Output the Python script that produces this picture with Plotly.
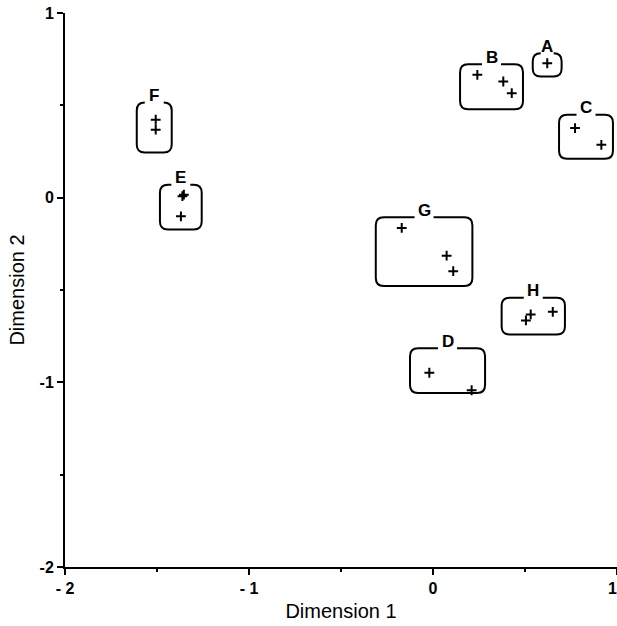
import plotly.graph_objects as go

# ---- data ----
clusters = ["A", "B", "C", "D", "E", "F", "G", "H"]
point_cluster = ["A",
                 "B", "B", "B",
                 "C", "C",
                 "D", "D",
                 "E", "E", "E",
                 "F", "F",
                 "G", "G", "G",
                 "H", "H", "H"]
point_x = [0.621,
           0.241, 0.382, 0.428,
           0.772, 0.915,
           -0.020, 0.210,
           -1.362, -1.354, -1.370,
           -1.507, -1.507,
           -0.170, 0.074, 0.110,
           0.531, 0.505, 0.651]
point_y = [0.728,
           0.665, 0.629, 0.566,
           0.377, 0.286,
           -0.948, -1.043,
           0.008, 0.016, -0.101,
           0.422, 0.368,
           -0.164, -0.314, -0.398,
           -0.632, -0.665, -0.618]
# cluster enclosure extents (data units)
box_x0 = [0.542, 0.147, 0.685, -0.125, -1.484, -1.610, -0.311, 0.373]
box_x1 = [0.699, 0.489, 0.978, 0.283, -1.257, -1.420, 0.214, 0.717]
box_y0 = [0.656, 0.479, 0.211, -1.058, -0.173, 0.245, -0.479, -0.741]
box_y1 = [0.782, 0.723, 0.449, -0.815, 0.070, 0.515, -0.106, -0.542]

x_tickvals = [-2, -1, 0, 1]
x_ticktext = ["- 2", "- 1", "0", "1\u2007"]
y_tickvals = [-2, -1, 0, 1]
y_ticktext = ["-2", "-1", "0", "1"]

# ---- figure ----
W, H = 617, 626
ML, MR, MT, MB = 65, 0, 13, 59
pxx = (W - ML - MR) / 3.0
pxy = (H - MT - MB) / 3.0
rx, ry = 8 / pxx, 8 / pxy
gap = 9.5 / pxx
FONT = "Liberation Sans, Arial, Helvetica, sans-serif"

fig = go.Figure()
fig.add_trace(go.Scatter(
    x=point_x, y=point_y, mode="markers",
    marker=dict(symbol="cross-thin", size=7, line=dict(width=2, color="black")),
    hoverinfo="skip", showlegend=False))

shapes = []
annotations = []
for lab, x0, x1, y0, y1 in zip(clusters, box_x0, box_x1, box_y0, box_y1):
    cx = (x0 + x1) / 2
    left_start = cx - gap
    right_end = cx + gap
    p = []
    if left_start > x0 + rx:
        p.append(f"M{left_start},{y1} L{x0 + rx},{y1}")
    else:
        p.append(f"M{x0 + rx},{y1}")
    p.append(f"Q{x0},{y1} {x0},{y1 - ry}")
    p.append(f"L{x0},{y0 + ry}")
    p.append(f"Q{x0},{y0} {x0 + rx},{y0}")
    p.append(f"L{x1 - rx},{y0}")
    p.append(f"Q{x1},{y0} {x1},{y0 + ry}")
    p.append(f"L{x1},{y1 - ry}")
    p.append(f"Q{x1},{y1} {x1 - rx},{y1}")
    if right_end < x1 - rx:
        p.append(f"L{right_end},{y1}")
    shapes.append(dict(type="path", path=" ".join(p), xref="x", yref="y",
                       line=dict(color="black", width=2)))
    annotations.append(dict(x=cx, y=y1, xref="x", yref="y", text=f"<b>{lab}</b>",
                            showarrow=False, yshift=7, yanchor="middle",
                            font=dict(family=FONT, size=17, color="black")))

axis_common = dict(
    showline=True, linewidth=2, linecolor="black", mirror=False,
    showgrid=False, zeroline=False,
    ticks="outside", ticklen=6, tickwidth=2, tickcolor="black",
    tickfont=dict(family=FONT, size=16, color="black", weight="bold"),
    minor=dict(dtick=0.5, ticks="outside", ticklen=3, tickwidth=1.5, tickcolor="black"),
    ticklabeloverflow="allow",
)

fig.update_layout(
    width=W, height=H,
    margin=dict(l=ML, r=MR, t=MT, b=MB),
    paper_bgcolor="white", plot_bgcolor="white",
    shapes=shapes, annotations=annotations,
    xaxis=dict(range=[-2, 1], tickvals=x_tickvals, ticktext=x_ticktext,
               title=dict(text="Dimension 1", standoff=8,
                          font=dict(family=FONT, size=20, color="black")),
               automargin=False, **axis_common),
    yaxis=dict(range=[-2, 1], tickvals=y_tickvals, ticktext=y_ticktext,
               title=dict(text="Dimension 2", standoff=10,
                          font=dict(family=FONT, size=20, color="black")),
               automargin=False, **axis_common),
)

fig.write_html("out.html", config={"displayModeBar": False},
               post_script="document.body.style.margin='0';document.body.style.overflow='hidden';")
